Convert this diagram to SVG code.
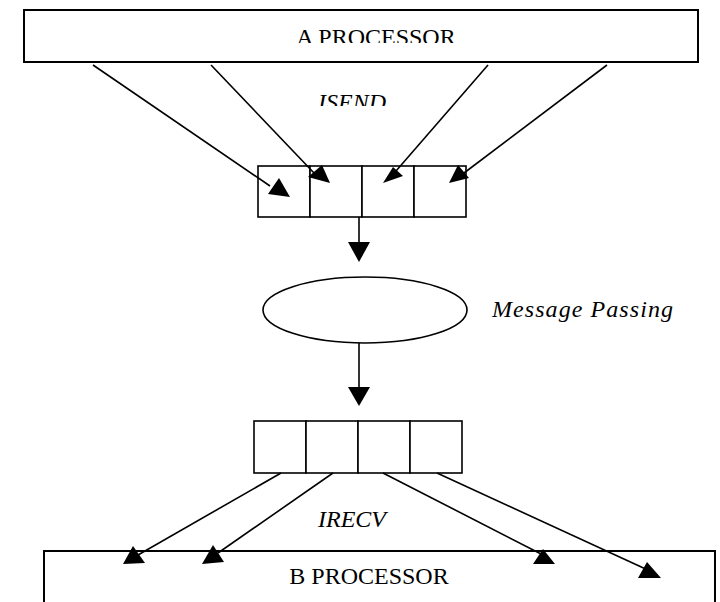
<svg xmlns="http://www.w3.org/2000/svg" width="720" height="602" viewBox="0 0 720 602">
<style>
.box{fill:#fff;stroke:#000;stroke-width:2}
.cell{fill:#fff;stroke:#000;stroke-width:1.6}
.ln{stroke:#000;stroke-width:1.6;fill:none}
.hd{fill:#000;stroke:none}
.t{font-family:"Liberation Serif","Times New Roman",serif;font-size:24px;fill:#000}
.i{font-family:"Liberation Serif","Times New Roman",serif;font-size:24px;font-style:italic;fill:#000}
</style>
<defs>
<clipPath id="clipA"><rect x="0" y="0" width="720" height="43"/></clipPath>
<clipPath id="clipS"><rect x="0" y="80" width="720" height="26"/></clipPath>
</defs>
<g id="a-processor">
<rect class="box" x="24" y="10" width="674" height="52"/>
<text class="t" x="376" y="45" text-anchor="middle" clip-path="url(#clipA)">A PROCESSOR</text>
</g>
<g id="send-buffer">
<rect class="cell" x="258" y="166" width="52" height="51"/>
<rect class="cell" x="310" y="166" width="52" height="51"/>
<rect class="cell" x="362" y="166" width="52" height="51"/>
<rect class="cell" x="414" y="166" width="52" height="51"/>
</g>
<g id="message-passing">
<ellipse class="cell" cx="365" cy="310" rx="102" ry="33"/>
</g>
<g id="recv-buffer">
<rect class="cell" x="254" y="421" width="52" height="52"/>
<rect class="cell" x="306" y="421" width="52" height="52"/>
<rect class="cell" x="358" y="421" width="52" height="52"/>
<rect class="cell" x="410" y="421" width="52" height="52"/>
</g>
<g id="b-processor">
<rect class="box" x="44" y="551" width="671" height="70"/>
<text class="t" x="369" y="584" text-anchor="middle">B PROCESSOR</text>
</g>
<g id="labels">
<text class="i" x="318" y="110" clip-path="url(#clipS)">ISEND</text>
<text class="i" x="492" y="317" font-size="25" textLength="181" lengthAdjust="spacing">Message Passing</text>
<text class="i" x="318" y="527">IRECV</text>
</g>
<g id="connectors">
<line class="ln" x1="93" y1="65" x2="270" y2="186"/>
<polygon class="hd" points="268,194 279,178 290,197"/>
<line class="ln" x1="211" y1="65" x2="314" y2="173"/>
<polygon class="hd" points="308,177 322,165 330,183"/>
<line class="ln" x1="488" y1="65" x2="396" y2="171"/>
<polygon class="hd" points="383,183 393,167 403,176"/>
<line class="ln" x1="607" y1="65" x2="464" y2="173"/>
<polygon class="hd" points="449,183 458,165 469,178"/>
<line class="ln" x1="359" y1="217" x2="359" y2="243"/>
<polygon class="hd" points="348,242 370,242 359,262"/>
<line class="ln" x1="359" y1="343" x2="359" y2="388"/>
<polygon class="hd" points="348,387 370,387 359,406"/>
<line class="ln" x1="281" y1="473" x2="138" y2="555"/>
<polygon class="hd" points="133,546 123,564 145,563"/>
<line class="ln" x1="333" y1="473" x2="218" y2="553"/>
<polygon class="hd" points="213,545 202,564 224,562"/>
<line class="ln" x1="383" y1="473" x2="545" y2="556"/>
<polygon class="hd" points="543,549 533,564 555,564"/>
<line class="ln" x1="437" y1="473" x2="650" y2="571"/>
<polygon class="hd" points="647,562 638,578 661,578"/>
</g>
</svg>
